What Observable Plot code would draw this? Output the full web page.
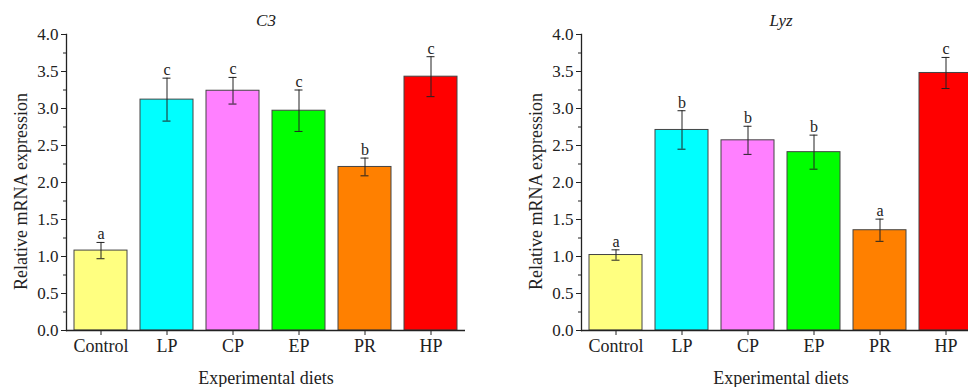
<!DOCTYPE html>
<html>
<head>
<meta charset="utf-8">
<script src="https://cdn.jsdelivr.net/npm/d3@7"></script>
<script src="https://cdn.jsdelivr.net/npm/@observablehq/plot@0.6"></script>
<style>
  html, body { margin: 0; padding: 0; background: #fff; }
  body { width: 968px; height: 387px; overflow: hidden; position: relative; }
  .panel { position: absolute; top: 0; width: 480px; }
  .panel svg { max-width: none !important; width: 480px; height: 387px; }
</style>
</head>
<body>
<div id="p1" class="panel" style="left:0px"></div>
<div id="p2" class="panel" style="left:515px"></div>
<script>
const categories = ["Control", "LP", "CP", "EP", "PR", "HP"];
const barColors = ["#FFFF80", "#00FFFF", "#FF80FF", "#00FF00", "#FF8000", "#FF0000"];

const c3Mean = [1.08, 3.12, 3.24, 2.97, 2.21, 3.43];
const c3Err  = [0.11, 0.29, 0.18, 0.28, 0.12, 0.27];
const c3Letters = ["a", "c", "c", "c", "b", "c"];

const lyzMean = [1.02, 2.71, 2.57, 2.41, 1.355, 3.48];
const lyzErr  = [0.07, 0.26, 0.19, 0.23, 0.15, 0.21];
const lyzLetters = ["a", "b", "b", "b", "a", "c"];

const yTicks = [0, 0.5, 1.0, 1.5, 2.0, 2.5, 3.0, 3.5, 4.0];
const yMinorTicks = [0.25, 0.75, 1.25, 1.75, 2.25, 2.75, 3.25, 3.75];

const yLabel = "Relative mRNA expression";
const xLabel = "Experimental diets";

function panel(title, means, errs, letters) {
  const data = categories.map((c, i) => ({
    cat: c, mean: means[i], err: errs[i], lo: means[i] - errs[i], hi: means[i] + errs[i], letter: letters[i]
  }));
  return Plot.plot({
    width: 480,
    height: 387,
    marginLeft: 66,
    marginRight: 15,
    marginTop: 34,
    marginBottom: 57,
    style: "font-family: 'Liberation Serif', serif; font-size: 17px; color: #222; background: transparent; overflow: visible; max-width: none;",
    x: { domain: categories, paddingInner: 0.2, paddingOuter: 0.1, label: null },
    y: { domain: [0, 4], label: null },
    color: { domain: categories, range: barColors },
    marks: [
      Plot.barY(data, { x: "cat", y: "mean", fill: "cat", stroke: "#444", strokeWidth: 1 }),
      Plot.ruleX(data, { x: "cat", y1: "lo", y2: "hi", stroke: "#222", strokeWidth: 1 }),
      Plot.tickY(data, { x: "cat", y: "lo", stroke: "#222", insetLeft: 22.5, insetRight: 22.5 }),
      Plot.tickY(data, { x: "cat", y: "hi", stroke: "#222", insetLeft: 22.5, insetRight: 22.5 }),
      Plot.text(data, { x: "cat", y: "hi", text: "letter", dy: -3, lineAnchor: "bottom", fontSize: 16, fill: "#222" }),
      Plot.ruleY([0], { stroke: "#222", strokeWidth: 1.3 }),
      Plot.frame({ anchor: "left", stroke: "#222", strokeWidth: 1.3 }),
      Plot.axisY(yMinorTicks, { tickSize: 3, tickFormat: () => "", label: null, stroke: "#222" }),
      Plot.axisY(yTicks, { tickSize: 5, tickPadding: 3, tickFormat: d3.format(".1f"), label: null, fontSize: 17, stroke: "#222", fill: "#222" }),
      Plot.axisX({ tickSize: 5, tickPadding: 4, label: null, fontSize: 18, stroke: "#222", fill: "#222" }),
      Plot.text([xLabel], { frameAnchor: "bottom", dy: 48, lineAnchor: "middle", fontSize: 18, fill: "#222" }),
      Plot.text([yLabel], { frameAnchor: "left", textAnchor: "middle", dx: -45, dy: 9, rotate: -90, lineAnchor: "middle", fontSize: 18, fill: "#222" }),
      Plot.text([title], { frameAnchor: "top", dy: -14, lineAnchor: "middle", fontSize: 17, fontStyle: "italic", fill: "#222" })
    ]
  });
}

document.getElementById("p1").appendChild(panel("C3", c3Mean, c3Err, c3Letters));
document.getElementById("p2").appendChild(panel("Lyz", lyzMean, lyzErr, lyzLetters));
</script>
</body>
</html>
